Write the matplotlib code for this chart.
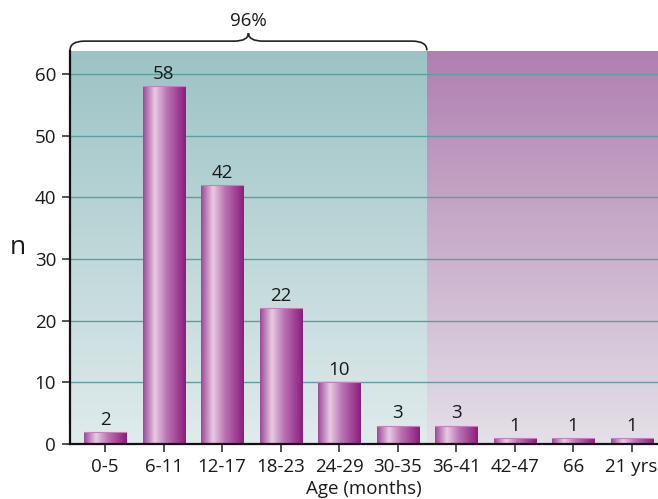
import numpy as np
import matplotlib
matplotlib.use("Agg")
import matplotlib.pyplot as plt
from matplotlib.colors import LinearSegmentedColormap
from matplotlib.path import Path
from matplotlib.patches import PathPatch

plt.rcParams['font.family'] = ['Open Sans', 'DejaVu Sans']

categories = ["0-5", "6-11", "12-17", "18-23", "24-29", "30-35",
              "36-41", "42-47", "66", "21 yrs"]
counts = [2, 58, 42, 22, 10, 3, 3, 1, 1, 1]
y_ticks = [0, 10, 20, 30, 40, 50, 60]
bracket_label = "96%"
split_after = 5  # last category inside the bracketed band

fig = plt.figure(figsize=(6.58, 4.99), dpi=100)
ax = fig.add_axes([0.1064, 0.1102, 0.8936, 0.7876])

x = np.arange(len(categories))
xmin, xmax = -0.6, len(categories) - 0.55
ymin, ymax = 0, 63.7
split = split_after + 0.5

# vertical background gradients for the two bands
teal = LinearSegmentedColormap.from_list("teal", ["#e0ebec", "#9cc3c5"])
mauve = LinearSegmentedColormap.from_list("mauve", ["#e4e0e8", "#b07fb0"])
grad = np.linspace(0, 1, 256).reshape(-1, 1)
ax.imshow(grad, cmap=teal, origin="lower", aspect="auto",
          extent=[xmin, split, ymin, ymax], zorder=0)
ax.imshow(grad, cmap=mauve, origin="lower", aspect="auto",
          extent=[split, xmax, ymin, ymax], zorder=0)

for t in y_ticks[1:]:
    ax.axhline(t, color="#5e9ea0", lw=1.0, zorder=1)

# bars with a cylindrical horizontal shading
bar_cmap = LinearSegmentedColormap.from_list(
    "bar", [(0.0, "#9c4796"), (0.28, "#e8cbe3"), (0.55, "#bb76b3"),
            (1.0, "#8c1c7e")])
hgrad = np.linspace(0, 1, 256).reshape(1, -1)
width = 0.72
bars = ax.bar(x, counts, width=width, color="none", edgecolor="none", zorder=2)
for rect, v in zip(bars, counts):
    x0 = rect.get_x()
    im = ax.imshow(hgrad, cmap=bar_cmap, aspect="auto",
                   extent=[x0, x0 + width, 0, v], zorder=2)
    im.set_clip_path(rect)
    ax.plot([x0, x0 + width], [v, v], color="#c77fbd", lw=0.8, zorder=3)
    ax.text(rect.get_x() + width / 2, v + 0.5, str(v), ha="center",
            va="bottom", fontsize=13.5, color="#1a1a1a", zorder=4)

ax.set_xlim(xmin, xmax)
ax.set_ylim(ymin, ymax)
ax.set_xticks(x)
ax.set_xticklabels(categories, fontsize=13.5)
ax.set_yticks(y_ticks)
ax.set_yticklabels([str(t) for t in y_ticks], fontsize=13.5)
ax.tick_params(axis="both", direction="out", length=6, width=1.2,
               color="#333333", labelcolor="#1a1a1a", pad=4)
for s in ["top", "right"]:
    ax.spines[s].set_visible(False)
for s in ["left", "bottom"]:
    ax.spines[s].set_linewidth(1.6)
    ax.spines[s].set_color("#111111")
    ax.spines[s].set_zorder(5)

ax.set_xlabel("Age (months)", fontsize=13.5, color="#1a1a1a", labelpad=3)
ax.set_ylabel("n", fontsize=19, rotation=0, color="#1a1a1a", labelpad=12,
              va="center")

# curly bracket spanning the first band
yb = 65.3
c = (xmin + split) / 2
r = 0.25
verts = [(xmin, ymax + 0.1), (xmin, yb), (xmin + r, yb),
         (c - r, yb), (c, yb), (c, yb + 1.3),
         (c, yb), (c + r, yb),
         (split - r, yb), (split, yb), (split, ymax + 0.1)]
codes = [Path.MOVETO, Path.CURVE3, Path.CURVE3,
         Path.LINETO, Path.CURVE3, Path.CURVE3,
         Path.CURVE3, Path.CURVE3,
         Path.LINETO, Path.CURVE3, Path.CURVE3]
ax.add_patch(PathPatch(Path(verts, codes), fill=False, lw=1.2,
                       edgecolor="#222222", clip_on=False, zorder=6))
ax.text(c, yb + 1.8, bracket_label, ha="center", va="bottom", fontsize=13.5,
        color="#1a1a1a", clip_on=False)

fig.savefig("out.png", dpi=100)
